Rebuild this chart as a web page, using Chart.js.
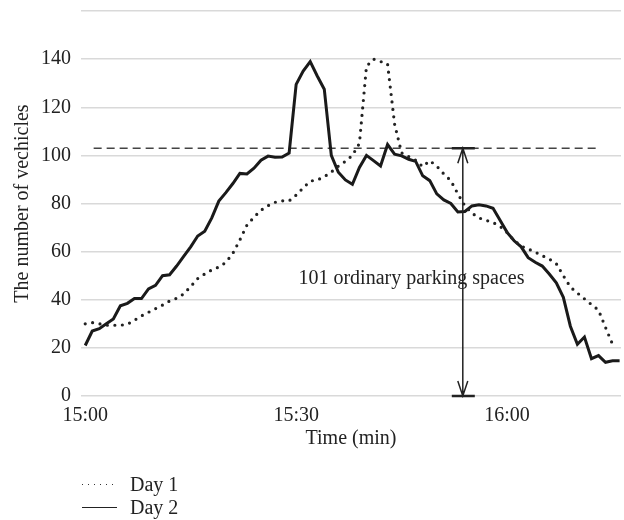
<!DOCTYPE html>
<html>
<head>
<meta charset="utf-8">
<script src="https://cdn.jsdelivr.net/npm/chart.js"></script>
<style>
  body { margin: 0; background: #fff; }
  #wrap { position: relative; width: 624px; height: 520px; }
  .legend { position: absolute; left: 82px; font: 20px "Liberation Serif", serif; color: #222; }
  .row { display: flex; align-items: center; height: 23px; }
  .sample { width: 35px; height: 1.5px; margin-right: 13px; }
  .dots { background: repeating-linear-gradient(to right, #333 0 1.5px, transparent 1.5px 6px); }
  .solid { background: #222; }
</style>
</head>
<body>
<div id="wrap">
  <canvas id="chart" width="624" height="520"></canvas>
  <div class="legend" style="top: 473px;">
    <div class="row"><span class="sample dots"></span>Day 1</div>
    <div class="row"><span class="sample solid"></span>Day 2</div>
  </div>
</div>
<script>
// vehicles in the lot, one reading per minute from 15:00
const day1 = [30, 30.5, 30, 29.4, 29.4, 29.4, 29.8, 31.5, 33.3, 34.8,
  36.3, 37.8, 39.5, 40.6, 42.4, 45.5, 48.8, 50.7, 52.4, 53.6,
  55.5, 59.3, 64.9, 71, 74.3, 77.2, 79.1, 80.5, 81.1, 81.1,
  83.5, 86.5, 89.3, 89.8, 91.1, 93.1, 95.5, 97.5, 100, 105,
  137, 140, 139, 138, 113, 101, 99.5, 98, 95.3, 97.8,
  95.5, 92.3, 89.5, 84, 79, 76, 74, 73, 72.1, 70.5,
  68, 64.6, 62.3, 61.1, 59.8, 58.3, 56.9, 55, 50, 45.3,
  42.8, 40.4, 38, 35.7, 28.5, 21.5];
const day2 = [21, 27, 28, 30, 32, 37.5, 38.5, 40.5, 40.5, 44.5,
  46, 50, 50.4, 54, 58, 62, 66.5, 68.5, 74, 81,
  84.5, 88.3, 92.5, 92.3, 94.7, 98, 99.7, 99.2, 99.3, 101,
  129.5, 135, 139, 133, 127.5, 100, 93, 89.8, 88, 95,
  100, 97.8, 95.6, 104.5, 100.5, 99.8, 98.4, 97.5, 91.5, 89.5,
  84, 81.5, 80, 76.5, 76.7, 79, 79.5, 79, 78, 73,
  68, 64.5, 62, 57.5, 55.6, 54, 50.7, 47, 41, 29,
  21.5, 24.5, 15.5, 16.8, 14, 14.6, 14.6];
const xTicks = [0, 30, 60];
const xTickLabels = ['15:00', '15:30', '16:00'];
const capacityLevel = 103;
const capacitySpan = [1.2, 73.3];
const arrowAt = 53.7;
const noteText = '101 ordinary parking spaces';
const notePos = [46.4, 48.6];

const serif = '"Liberation Serif", "Times New Roman", serif';
const ink = '#222';

const toPoints = arr => arr.map((v, i) => ({ x: i, y: v }));

// the double arrow + label for the ordinary spaces
const spacesArrow = {
  id: 'spacesArrow',
  afterDatasetsDraw(chart) {
    const { ctx, scales: { x, y } } = chart;
    const px = x.getPixelForValue(arrowAt);
    const top = y.getPixelForValue(capacityLevel);
    const bot = y.getPixelForValue(0);
    ctx.save();
    ctx.fillStyle = ink;
    ctx.font = '20px ' + serif;
    ctx.textAlign = 'center';
    ctx.textBaseline = 'middle';
    ctx.fillText(noteText, x.getPixelForValue(notePos[0]), y.getPixelForValue(notePos[1]));

    ctx.strokeStyle = ink;
    ctx.lineWidth = 1.5;
    ctx.beginPath();
    ctx.moveTo(px, top);
    ctx.lineTo(px, bot);
    // heads
    ctx.moveTo(px - 5, top + 15); ctx.lineTo(px, top); ctx.lineTo(px + 5, top + 15);
    ctx.moveTo(px - 5, bot - 15); ctx.lineTo(px, bot); ctx.lineTo(px + 5, bot - 15);
    ctx.stroke();
    ctx.lineWidth = 2.5;
    ctx.beginPath();
    ctx.moveTo(px - 11, top); ctx.lineTo(px + 12, top);
    ctx.moveTo(px - 11, bot); ctx.lineTo(px + 12, bot);
    ctx.stroke();
    ctx.restore();
  }
};

new Chart(document.getElementById('chart'), {
  type: 'line',
  data: {
    datasets: [
      {
        label: 'Day 1',
        data: toPoints(day1),
        borderColor: ink,
        borderWidth: 3.2,
        borderDash: [0, 7.5],
        borderCapStyle: 'round',
        pointRadius: 0,
        tension: 0
      },
      {
        label: 'Day 2',
        data: toPoints(day2),
        borderColor: '#1a1a1a',
        borderWidth: 3,
        borderJoinStyle: 'miter',
        pointRadius: 0,
        tension: 0
      },
      {
        label: 'capacity',
        data: capacitySpan.map(m => ({ x: m, y: capacityLevel })),
        borderColor: '#444',
        borderWidth: 1.5,
        borderDash: [8, 5],
        pointRadius: 0
      }
    ]
  },
  options: {
    responsive: false,
    animation: false,
    layout: { padding: { left: 11, right: 3, top: 11, bottom: 64 } },
    plugins: { legend: { display: false }, tooltip: { enabled: false } },
    scales: {
      x: {
        type: 'linear',
        min: -0.6,
        max: 76.2,
        grid: { display: false },
        border: { display: false },
        afterBuildTicks: s => { s.ticks = xTicks.map(v => ({ value: v })); },
        afterFit: s => { s.height = 60; },
        ticks: {
          color: ink,
          padding: 0,
          maxRotation: 0,
          font: { family: serif, size: 20 },
          callback: v => xTickLabels[xTicks.indexOf(v)]
        },
        title: {
          display: true,
          text: 'Time (min)',
          color: ink,
          font: { family: serif, size: 20 },
          padding: { top: 0, bottom: 5 }
        }
      },
      y: {
        min: 0,
        max: 160,
        afterFit: s => { s.width = 70; s.paddingTop = 0; s.paddingBottom = 0; },
        grid: { color: '#d9d9d9', lineWidth: 1.5, drawTicks: false },
        border: { display: false },
        ticks: {
          stepSize: 20,
          color: ink,
          padding: 10,
          font: { family: serif, size: 20 },
          callback: v => (v === 160 ? '' : v)
        },
        title: {
          display: true,
          text: 'The number of vechicles',
          color: ink,
          font: { family: serif, size: 20 },
          padding: 0
        }
      }
    }
  },
  plugins: [spacesArrow]
});
</script>
</body>
</html>
